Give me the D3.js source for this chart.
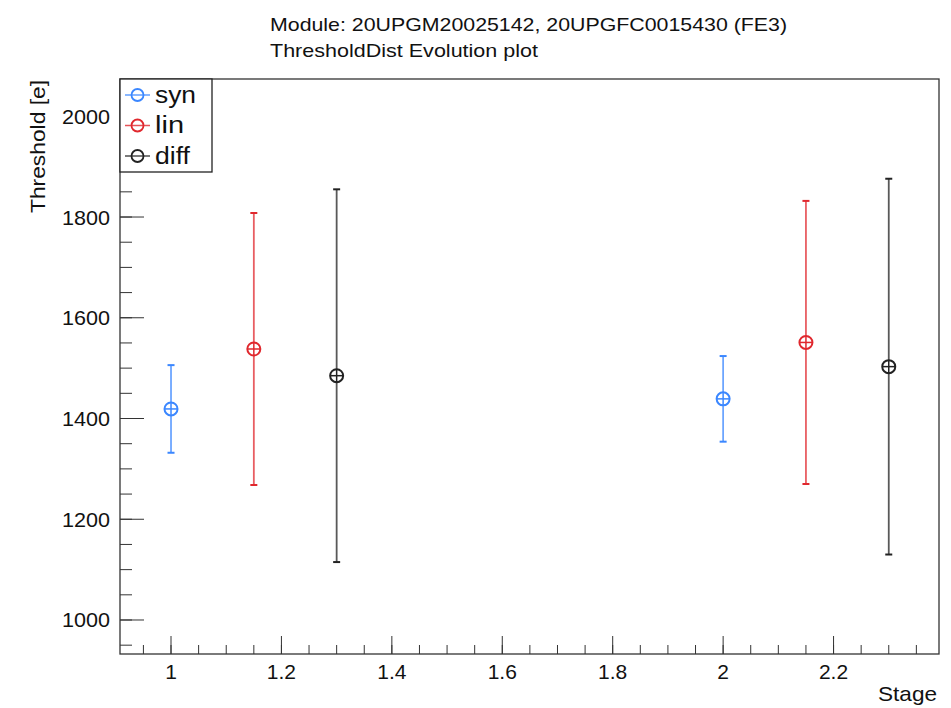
<!DOCTYPE html>
<html><head><meta charset="utf-8">
<script src="https://cdn.jsdelivr.net/npm/d3@7"></script>
<style>body{margin:0;background:#fff}svg{display:block}text{font-family:"Liberation Sans",Arial,sans-serif}</style>
</head><body><svg id="c" width="951" height="708"></svg>
<script>
const titleLines = ["Module: 20UPGM20025142, 20UPGFC0015430 (FE3)", "ThresholdDist Evolution plot"];
const seriesNames = ["syn", "lin", "diff"];
const seriesColors = ["#3b87ff", "#e0282e", "#222222"];
const stages = [1, 2];
const offsets = [0, 0.15, 0.3];
const synValues = [1419, 1439];
const synErrors = [87, 85];
const linValues = [1538, 1551];
const linErrors = [270, 281];
const diffValues = [1485, 1503];
const diffErrors = [370, 373];
const xTicks = [1, 1.2, 1.4, 1.6, 1.8, 2, 2.2];
const yTicks = [1000, 1200, 1400, 1600, 1800, 2000];

const values = [synValues, linValues, diffValues];
const errors = [synErrors, linErrors, diffErrors];

const svg = d3.select("#c");
const L = 120, R = 939, T = 79, B = 654;
const x = d3.scaleLinear().domain([0.9076, 2.391]).range([L, R]);
const y = d3.scaleLinear().domain([932.5, 2074]).range([B, T]);

// title
const titleW = [517, 268];
svg.selectAll("text.title").data(titleLines).enter().append("text")
  .attr("x", 270).attr("y", (d, i) => 31 + i * 26)
  .attr("font-size", 19).attr("fill", "#111")
  .attr("textLength", (d, i) => titleW[i]).attr("lengthAdjust", "spacingAndGlyphs").text(d => d);

// frame
svg.append("rect").attr("x", L).attr("y", T).attr("width", R - L).attr("height", B - T)
  .attr("fill", "none").attr("stroke", "#333").attr("stroke-width", 1.3);

// x axis
const xMinor = d3.range(0.95, 2.391, 0.05).map(v => Math.round(v * 100) / 100);
const gx = svg.append("g");
gx.selectAll("line.minor").data(xMinor).enter().append("line")
  .attr("x1", d => x(d)).attr("x2", d => x(d)).attr("y1", B).attr("y2", B - 9)
  .attr("stroke", "#333").attr("stroke-width", 1);
gx.selectAll("line.major").data(xTicks).enter().append("line")
  .attr("x1", d => x(d)).attr("x2", d => x(d)).attr("y1", B).attr("y2", B - 18)
  .attr("stroke", "#333").attr("stroke-width", 1);
gx.selectAll("text").data(xTicks).enter().append("text")
  .attr("x", d => x(d)).attr("y", 679).attr("text-anchor", "middle")
  .attr("font-size", 21).attr("fill", "#111").text(d => d3.format("~g")(d));
svg.append("text").attr("x", 937).attr("y", 701).attr("text-anchor", "end")
  .attr("font-size", 21).attr("fill", "#111")
  .attr("textLength", 59).attr("lengthAdjust", "spacingAndGlyphs").text("Stage");

// y axis
const yMinor = d3.range(950, 2074, 50);
const gy = svg.append("g");
gy.selectAll("line.minor").data(yMinor).enter().append("line")
  .attr("x1", L).attr("x2", L + 12).attr("y1", d => y(d)).attr("y2", d => y(d))
  .attr("stroke", "#333").attr("stroke-width", 1);
gy.selectAll("line.major").data(yTicks).enter().append("line")
  .attr("x1", L).attr("x2", L + 24).attr("y1", d => y(d)).attr("y2", d => y(d))
  .attr("stroke", "#333").attr("stroke-width", 1);
gy.selectAll("text").data(yTicks).enter().append("text")
  .attr("x", 110).attr("y", d => y(d) + 7.5).attr("text-anchor", "end")
  .attr("font-size", 21).attr("fill", "#111")
  .attr("textLength", 48).attr("lengthAdjust", "spacingAndGlyphs").text(d => d);
svg.append("text").attr("transform", "translate(45,80) rotate(-90)")
  .attr("text-anchor", "end").attr("font-size", 21).attr("fill", "#111")
  .attr("textLength", 133).attr("lengthAdjust", "spacingAndGlyphs").text("Threshold [e]");

// data
const r = 6.5;
seriesNames.forEach((name, s) => {
  const g = svg.append("g").attr("stroke", seriesColors[s]).attr("fill", "none");
  stages.forEach((st, i) => {
    const cx = x(st + offsets[s]);
    const v = values[s][i], e = errors[s][i];
    g.append("line").attr("x1", cx).attr("x2", cx).attr("y1", y(v + e)).attr("y2", y(v) - r)
      .attr("stroke-width", 1.8).attr("stroke-opacity", 0.75);
    g.append("line").attr("x1", cx).attr("x2", cx).attr("y1", y(v) + r).attr("y2", y(v - e))
      .attr("stroke-width", 1.8).attr("stroke-opacity", 0.75);
    [v + e, v - e].forEach(t => g.append("line").attr("x1", cx - 3.5).attr("x2", cx + 3.5)
      .attr("y1", y(t)).attr("y2", y(t)).attr("stroke-width", 2));
    g.append("circle").attr("cx", cx).attr("cy", y(v)).attr("r", r).attr("stroke-width", 2);
    g.append("line").attr("x1", cx - r).attr("x2", cx + r).attr("y1", y(v)).attr("y2", y(v)).attr("stroke-width", 1.5);
    g.append("line").attr("x1", cx).attr("x2", cx).attr("y1", y(v) - r).attr("y2", y(v) + r).attr("stroke-width", 1.5);
  });
});

// legend
svg.append("rect").attr("x", L).attr("y", T).attr("width", 92).attr("height", 93)
  .attr("fill", "#fff").attr("stroke", "#222").attr("stroke-width", 1.3);
const legendW = [41, 29, 35];
seriesNames.forEach((name, s) => {
  const ly = 95 + s * 30.5;
  const g = svg.append("g").attr("stroke", seriesColors[s]).attr("fill", "none");
  g.append("line").attr("x1", 125).attr("x2", 150).attr("y1", ly).attr("y2", ly).attr("stroke-width", 1.5).attr("stroke-opacity", 0.8);
  g.append("circle").attr("cx", 137.5).attr("cy", ly).attr("r", 6).attr("stroke-width", 1.8);
  svg.append("text").attr("x", 155).attr("y", ly + 7.5).attr("font-size", 23).attr("fill", "#111")
    .attr("textLength", legendW[s]).attr("lengthAdjust", "spacingAndGlyphs").text(name);
});
</script></body></html>
